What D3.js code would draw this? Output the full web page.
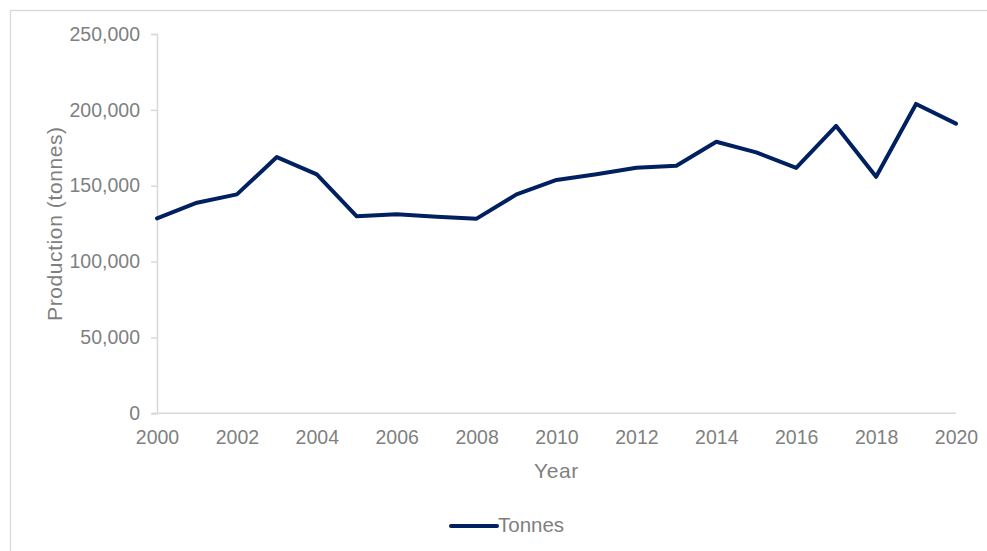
<!DOCTYPE html>
<html>
<head>
<meta charset="utf-8">
<script src="https://cdn.jsdelivr.net/npm/d3@7"></script>
<style>
  html, body { margin: 0; padding: 0; background: #fff; }
  svg { display: block; }
  text { font-family: "Liberation Sans", Arial, sans-serif; fill: #7f7f7f; }
</style>
</head>
<body>
<svg id="chart" width="987" height="551"></svg>
<script>
const years = [2000,2001,2002,2003,2004,2005,2006,2007,2008,2009,2010,2011,2012,2013,2014,2015,2016,2017,2018,2019,2020];
const tonnes = [128500,138800,144300,168900,157500,129800,131200,129600,128300,144300,153800,157600,161900,163200,179000,172000,161700,189400,155900,203900,190900];
const yTicks = [0,50000,100000,150000,200000,250000];
const xTicks = [2000,2002,2004,2006,2008,2010,2012,2014,2016,2018,2020];
const seriesName = "Tonnes";
const xTitle = "Year";
const yTitle = "Production (tonnes)";

(function () {
const svg = d3.select("#chart");
const navy = "#002060";
const axisGrey = "#d9d9d9";

// outer chart border
svg.append("rect")
  .attr("x", 10.5).attr("y", 10.5)
  .attr("width", 990).attr("height", 560)
  .attr("fill", "none").attr("stroke", axisGrey).attr("stroke-width", 1.3);

const pL = 157, pR = 956, pT = 34, pB = 413.3;
const x = d3.scaleLinear().domain([2000, 2020]).range([pL, pR]);
const y = d3.scaleLinear().domain([0, 250000]).range([pB, pT]);

// Y axis
const yAxis = d3.axisLeft(y).tickValues(yTicks).tickSize(6).tickPadding(11)
  .tickFormat(d3.format(","));
const gy = svg.append("g").attr("transform", `translate(${pL},0)`).call(yAxis);
gy.select(".domain").attr("stroke", axisGrey).attr("stroke-width", 1.5);
gy.selectAll(".tick line").attr("stroke", axisGrey).attr("stroke-width", 1.5);
gy.selectAll(".tick text").attr("fill", "#7f7f7f")
  .style("font-size", "19.5px").style("font-family", "'Liberation Sans', Arial, sans-serif");

// X axis
const xAxis = d3.axisBottom(x).tickValues(xTicks).tickSize(0).tickPadding(17)
  .tickFormat(d3.format("d"));
const gx = svg.append("g").attr("transform", `translate(0,${pB})`).call(xAxis);
gx.select(".domain").attr("stroke", axisGrey).attr("stroke-width", 1.5)
  .attr("d", `M${pL - 5},0H${pR}`);
gx.selectAll(".tick text").attr("fill", "#7f7f7f")
  .style("font-size", "19.5px").style("font-family", "'Liberation Sans', Arial, sans-serif");

// axis titles
svg.append("text")
  .attr("x", (pL + pR) / 2).attr("y", 477.5)
  .attr("text-anchor", "middle")
  .style("font-size", "21px").style("letter-spacing", "0.6px")
  .text(xTitle);

svg.append("text")
  .attr("transform", `translate(62,${(pT + pB) / 2}) rotate(-90)`)
  .attr("text-anchor", "middle")
  .style("font-size", "21px").style("letter-spacing", "0.6px")
  .text(yTitle);

// line
const line = d3.line().x((d, i) => x(years[i])).y(d => y(d));
svg.append("path")
  .datum(tonnes)
  .attr("d", line)
  .attr("fill", "none")
  .attr("stroke", navy)
  .attr("stroke-width", 4)
  .attr("stroke-linejoin", "round")
  .attr("stroke-linecap", "round");

// legend
const lg = svg.append("g");
lg.append("line")
  .attr("x1", 451).attr("x2", 497).attr("y1", 526).attr("y2", 526)
  .attr("stroke", navy).attr("stroke-width", 4).attr("stroke-linecap", "round");
lg.append("text")
  .attr("x", 498).attr("y", 531.5)
  .style("font-size", "20.5px")
  .text(seriesName);
})();
</script>
</body>
</html>
